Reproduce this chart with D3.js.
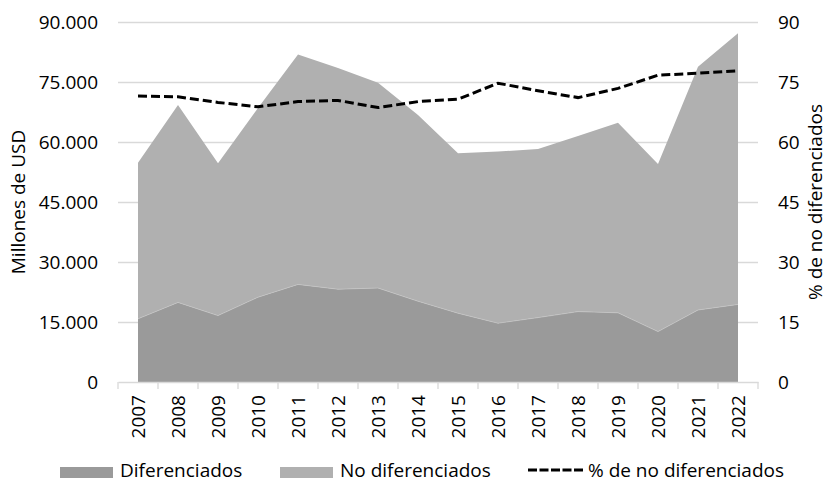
<!DOCTYPE html>
<html>
<head>
<meta charset="utf-8">
<script src="https://cdn.jsdelivr.net/npm/d3@7"></script>
<style>
  body { margin: 0; background: #fff; }
  text { font-family: "Open Sans", sans-serif; fill: #000; }
</style>
</head>
<body>
<div class="chart"></div>
<script>
// data
var years = ["2007", "2008", "2009", "2010", "2011", "2012", "2013", "2014",
             "2015", "2016", "2017", "2018", "2019", "2020", "2021", "2022"];
var diferenciados = [15800, 19900, 16600, 21200, 24400, 23200, 23500, 20200,
                     17200, 14700, 16100, 17600, 17300, 12600, 18000, 19400];
var noDiferenciados = [39000, 49350, 38100, 47300, 57500, 55300, 51300, 46550,
                       40000, 42900, 42150, 43900, 47500, 41900, 60800, 67800];
var pctNoDif = [71.5, 71.3, 69.9, 68.8, 70.1, 70.4, 68.6, 70.1,
                70.7, 74.7, 72.8, 71.1, 73.4, 76.7, 77.2, 77.8];
var leftTicks = [0, 15000, 30000, 45000, 60000, 75000, 90000];
var rightTicks = [0, 15, 30, 45, 60, 75, 90];

// set the dimensions and margins of the graph
var margin = {top: 22, right: 71, bottom: 101, left: 118},
    width = 829 - margin.left - margin.right,
    height = 483 - margin.top - margin.bottom;

var locale = d3.formatLocale({decimal: ",", thousands: ".", grouping: [3], currency: ["", ""]});
var fmt = locale.format(",.0f");

var x = d3.scaleBand().domain(years).range([0, width]).padding(0);
var y = d3.scaleLinear().domain([0, 90000]).range([height, 0]);
var y2 = d3.scaleLinear().domain([0, 90]).range([height, 0]);
var cx = function(d) { return x(d) + x.bandwidth() / 2; };

var svg = d3.select(".chart").append("svg")
    .attr("width", 829)
    .attr("height", 483)
    .append("g")
    .attr("transform", "translate(" + margin.left + "," + margin.top + ")");

// gridlines
svg.append("g")
    .call(d3.axisLeft(y).tickValues(leftTicks.slice(1)).tickSize(-width).tickFormat(""))
    .call(function(g) {
        g.select(".domain").remove();
        g.selectAll("line").attr("stroke", "#d9d9d9").attr("stroke-width", 1.3);
    });

// stacked areas
var table = years.map(function(yr, i) {
    return {year: yr, dif: diferenciados[i], nodif: noDiferenciados[i]};
});
var stack = d3.stack().keys(["dif", "nodif"])(table);
var colors = {dif: "#9a9a9a", nodif: "#b0b0b0"};

var area = d3.area()
    .x(function(d) { return cx(d.data.year); })
    .y0(function(d) { return y(d[0]); })
    .y1(function(d) { return y(d[1]); });

svg.selectAll(".layer")
    .data(stack)
    .enter().append("path")
    .attr("class", "layer")
    .attr("fill", function(d) { return colors[d.key]; })
    .attr("d", area);

// thin light edge between layers
svg.append("path")
    .datum(stack[0])
    .attr("fill", "none")
    .attr("stroke", "#c4c4c4")
    .attr("stroke-width", 0.7)
    .attr("d", d3.line()
        .x(function(d) { return cx(d.data.year); })
        .y(function(d) { return y(d[1]); }));

// x axis
svg.append("g")
    .attr("transform", "translate(0," + height + ")")
    .call(d3.axisBottom(x).tickSize(0).tickFormat(""))
    .call(function(g) {
        g.select(".domain").attr("stroke", "#d9d9d9").attr("stroke-width", 1.3);
    });

// x tick marks at band edges
svg.append("g")
    .selectAll("line")
    .data(years.concat(["end"]))
    .enter().append("line")
    .attr("x1", function(d, i) { return i * x.bandwidth(); })
    .attr("x2", function(d, i) { return i * x.bandwidth(); })
    .attr("y1", height)
    .attr("y2", height + 7)
    .attr("stroke", "#d9d9d9")
    .attr("stroke-width", 1.3);

// year labels
svg.append("g")
    .selectAll("text")
    .data(years)
    .enter().append("text")
    .attr("transform", function(d) { return "translate(" + cx(d) + "," + (height + 13) + ") rotate(-90)"; })
    .attr("text-anchor", "end")
    .attr("dy", "0.36em")
    .style("font-size", "19px")
    .text(function(d) { return d; });

// left axis labels
svg.append("g")
    .call(d3.axisLeft(y).tickValues(leftTicks).tickSize(0).tickPadding(20).tickFormat(fmt))
    .call(function(g) {
        g.select(".domain").remove();
        g.selectAll("text").style("font-size", "19px").attr("font-family", null);
    });

// right axis labels
svg.append("g")
    .attr("transform", "translate(" + width + ",0)")
    .call(d3.axisRight(y2).tickValues(rightTicks).tickSize(0).tickPadding(20))
    .call(function(g) {
        g.select(".domain").remove();
        g.selectAll("text").style("font-size", "19px").attr("font-family", null);
    });

// dashed percentage line
svg.append("path")
    .datum(pctNoDif)
    .attr("fill", "none")
    .attr("stroke", "#000")
    .attr("stroke-width", 3)
    .attr("stroke-dasharray", "9,4")
    .attr("d", d3.line()
        .x(function(d, i) { return cx(years[i]); })
        .y(function(d) { return y2(d); }));

// axis titles
svg.append("text")
    .attr("transform", "translate(" + (18 - margin.left) + "," + (height / 2) + ") rotate(-90)")
    .attr("text-anchor", "middle")
    .attr("dy", "0.35em")
    .style("font-size", "19px")
    .text("Millones de USD");

svg.append("text")
    .attr("transform", "translate(" + (822 - margin.left) + "," + (height / 2) + ") rotate(-90)")
    .attr("text-anchor", "middle")
    .style("font-size", "19px")
    .text("% de no diferenciados");

// legend
var legend = d3.select("svg").append("g");
legend.append("rect").attr("x", 60).attr("y", 467).attr("width", 53).attr("height", 11).attr("fill", colors.dif);
legend.append("text").attr("x", 120).attr("y", 477).style("font-size", "19px").text("Diferenciados");
legend.append("rect").attr("x", 280).attr("y", 467).attr("width", 53).attr("height", 11).attr("fill", colors.nodif);
legend.append("text").attr("x", 340).attr("y", 477).style("font-size", "19px").text("No diferenciados");
legend.append("line").attr("x1", 528).attr("x2", 583).attr("y1", 470).attr("y2", 470)
    .attr("stroke", "#000").attr("stroke-width", 3).attr("stroke-dasharray", "9,2.5");
legend.append("text").attr("x", 588).attr("y", 477).style("font-size", "19px").text("% de no diferenciados");
</script>
</body>
</html>
